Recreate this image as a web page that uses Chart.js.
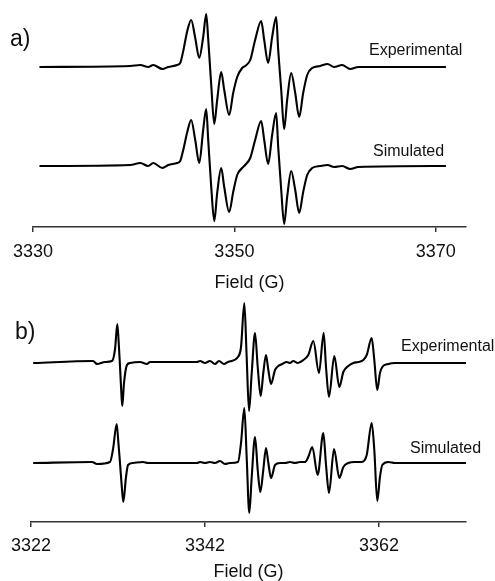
<!DOCTYPE html>
<html>
<head>
<meta charset="utf-8">
<script src="https://cdn.jsdelivr.net/npm/chart.js@4.4.0/dist/chart.umd.min.js"></script>
<style>
  body { margin: 0; background: #fff; }
  #wrap { position: relative; width: 495px; height: 581px; }
  canvas { position: absolute; left: 0; }
  #chartA { top: 0; }
  #chartB { top: 290px; }
</style>
</head>
<body>
<div id="wrap">
  <canvas id="chartA" width="495" height="292" style="width:495px;height:292px"></canvas>
  <canvas id="chartB" width="495" height="291" style="width:495px;height:291px"></canvas>
</div>
<script>
// panel a) - field (G) and first-derivative intensity (arb. units, baseline = 0)
var fieldA = [
  3330.72, 3339.66, 3340.65, 3341.44, 3341.94, 3342.85, 3343.44, 3344.32, 3344.62, 3344.92,
  3345.32, 3345.71, 3346.11, 3346.51, 3346.90, 3347.20, 3347.40, 3347.70, 3348.00, 3348.29,
  3348.69, 3348.99, 3349.48, 3349.88, 3350.28, 3350.77, 3351.07, 3351.57, 3352.06, 3352.66,
  3352.96, 3353.35, 3353.75, 3354.15, 3354.35, 3354.65, 3354.94, 3355.24, 3355.64, 3356.04,
  3356.43, 3356.83, 3357.23, 3357.72, 3358.52, 3359.25, 3359.90, 3360.70, 3361.50, 3362.30,
  3370.93
]
var expA = [
  0, 1, 2, 0, 2, -2, 0, 2, 4, 16,
  36, 47, 29, 9, 30, 53, 28, -18, -57, -33,
  -5, -23, -48, -26, -10, -1, 1, 7, 27, 46,
  27, 4, 30, 50, 17, -23, -62, -33, -6, -26,
  -50, -26, -8, -1, 1, 3, 0, 2, -2, 0,
  0
]
var simA = [
  0, 1, 3, 0, 3, -2, 1, 3, 5, 16,
  34, 46, 26, 3, 36, 57, 26, -21, -55, -27,
  -2, -21, -46, -26, -9, -2, 1, 8, 26, 45,
  26, 2, 31, 53, 19, -24, -58, -31, -5, -24,
  -47, -26, -9, -2, 0, 1, -1, 0, -3, -1,
  0
]
var ticksA = [3330, 3350, 3370]

// panel b)
var fieldBExp = [
  3322.34, 3329.13, 3329.59, 3330.51, 3331.31, 3331.66, 3331.92, 3332.07, 3332.21, 3332.35,
  3332.49, 3332.69, 3333.03, 3333.38, 3334.53, 3335.33, 3335.68, 3341.08, 3341.43, 3342.00,
  3342.57, 3343.15, 3343.61, 3344.18, 3344.64, 3345.79, 3346.14, 3346.52, 3346.79, 3347.06,
  3347.37, 3347.75, 3348.06, 3348.40, 3348.70, 3349.01, 3349.28, 3349.59, 3350.05, 3350.43,
  3350.89, 3351.39, 3351.77, 3352.15, 3352.66, 3353.30, 3353.87, 3354.45, 3355.10, 3355.64,
  3355.91, 3356.25, 3356.86, 3357.44, 3357.90, 3358.47, 3359.05, 3359.62, 3360.20, 3360.59,
  3361.16, 3361.46, 3361.80, 3362.11, 3362.38, 3363.07, 3363.84, 3364.41, 3372.00
]
var expB = [
  0, 2, -1, 1, 2, 14, 39, 22, 0, -24,
  -43, -20, -2, 0, 1, -1, 1, 1, 2, 0,
  2, -1, 2, -1, 1, 6, 16, 60, 6, -48,
  -10, 30, -4, -33, -10, 8, -7, -21, -7, -3,
  -1, 1, 0, 2, 0, 3, 8, 22, -10, 30,
  -4, -34, 7, -24, -9, -3, 0, 1, 3, 8,
  25, 3, -27, -10, -4, -1, 0, 0, 0
]
var fieldBSim = [
  3322.34, 3329.01, 3329.59, 3331.08, 3331.43, 3331.85, 3332.03, 3332.23, 3332.42, 3332.61,
  3332.92, 3333.15, 3333.72, 3334.87, 3335.45, 3341.08, 3341.43, 3342.00, 3342.57, 3343.15,
  3343.72, 3344.30, 3344.87, 3345.79, 3346.14, 3346.52, 3346.79, 3347.09, 3347.37, 3347.75,
  3348.06, 3348.36, 3348.70, 3349.01, 3349.28, 3349.59, 3350.05, 3350.62, 3351.20, 3351.77,
  3352.34, 3352.92, 3353.49, 3353.87, 3354.33, 3354.95, 3355.60, 3355.91, 3356.25, 3356.83,
  3357.44, 3357.90, 3358.47, 3359.24, 3360.01, 3360.59, 3361.16, 3361.46, 3361.80, 3362.11,
  3362.38, 3363.07, 3363.84, 3372.00
]
var simB = [
  0, 1, -1, 1, 14, 39, 22, 0, -22, -39,
  -14, -2, 0, 1, 0, 0, 1, 0, 1, 0,
  2, -1, 0, 1, 20, 55, 6, -50, -14, 26,
  -7, -29, -7, 15, 0, -15, -2, 0, 0, 1,
  0, 1, 1, 6, 16, -12, 30, -2, -30, 14,
  -15, -4, 0, 1, 1, 8, 40, 13, -38, -14,
  -2, 1, 0, 0
]
var ticksB = [3322, 3342, 3362]

var FONT = "'Liberation Sans', Arial, Helvetica, sans-serif"

var textPlugin = {
    id: 'panelText',
    afterDraw: function(chart, args, opts){
        var ctx = chart.ctx
        ctx.save()
        opts.items.forEach(function(t){
            ctx.font = t.size + 'px ' + FONT
            ctx.fillStyle = '#111'
            ctx.textAlign = 'left'
            ctx.textBaseline = 'middle'
            ctx.fillText(t.text, t.x, t.y)
        })
        ctx.restore()
    }
}

function trace(field, vals, offset){
    return {
        data: field.map(function(f, i){ return {x: f, y: vals[i] + offset} }),
        borderColor: '#000',
        borderWidth: 2.1,
        borderJoinStyle: 'round',
        borderCapStyle: 'round',
        pointRadius: 0,
        fill: false,
        cubicInterpolationMode: 'monotone'
    }
}

function makePanel(id, p){
    new Chart(document.getElementById(id), {
        type: 'line',
        data: { datasets: p.datasets },
        options: {
            responsive: false,
            animation: false,
            layout: { padding: { left: p.left, right: p.right, top: 0, bottom: 0 } },
            plugins: {
                legend: { display: false },
                tooltip: { enabled: false },
                panelText: { items: p.texts }
            },
            scales: {
                x: {
                    type: 'linear',
                    min: p.min,
                    max: p.max,
                    afterBuildTicks: function(s){ s.ticks = p.ticks.map(function(v){ return {value: v} }) },
                    afterFit: function(s){ s.height = p.axisHeight },
                    ticks: {
                        color: '#111',
                        font: { family: FONT, size: 18 },
                        padding: p.tickPad,
                        maxRotation: 0,
                        autoSkip: false,
                        callback: function(v){ return String(v) }
                    },
                    grid: { drawOnChartArea: false, drawTicks: true, tickLength: 5, color: '#333', lineWidth: 1.5 },
                    border: { display: true, color: '#333', width: 1.5 },
                    title: {
                        display: true,
                        text: 'Field (G)',
                        color: '#111',
                        font: { family: FONT, size: 18, lineHeight: 1 },
                        padding: { top: 0, bottom: p.titlePad }
                    }
                },
                y: { display: false, min: 0, max: p.ymax }
            }
        },
        plugins: [textPlugin]
    })
}

makePanel('chartA', {
    min: 3330, max: 3373, ticks: ticksA,
    left: 33, right: 29, axisHeight: 65, ymax: 227, tickPad: 9, titlePad: 0,
    datasets: [trace(fieldA, expA, 160), trace(fieldA, simA, 61)],
    texts: [
        {text: 'a)', x: 10, y: 40, size: 23},
        {text: 'Experimental', x: 369, y: 51, size: 16},
        {text: 'Simulated', x: 373, y: 152, size: 16}
    ]
})

makePanel('chartB', {
    min: 3322, max: 3372, ticks: ticksB,
    left: 31, right: 29, axisHeight: 59, ymax: 232, tickPad: 8, titlePad: 0,
    datasets: [trace(fieldBExp, expB, 159), trace(fieldBSim, simB, 59)],
    texts: [
        {text: 'b)', x: 15, y: 43, size: 23},
        {text: 'Experimental', x: 401, y: 57, size: 16},
        {text: 'Simulated', x: 410, y: 159, size: 16}
    ]
})
</script>
</body>
</html>
